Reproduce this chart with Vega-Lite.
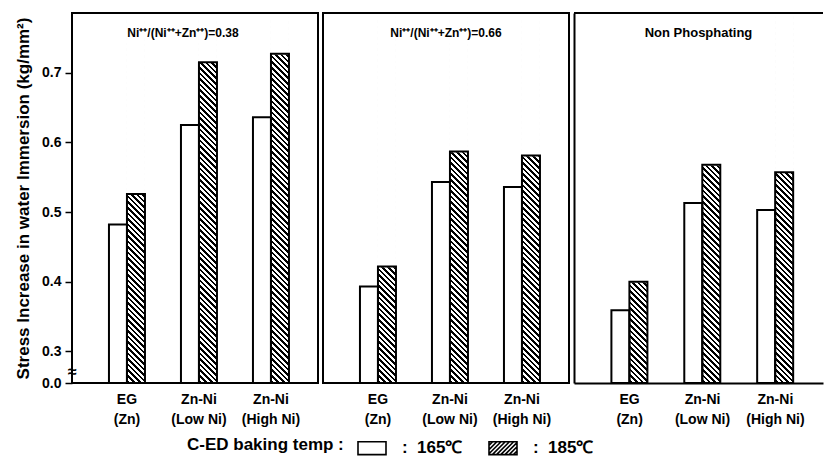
{
 "$schema": "https://vega.github.io/schema/vega-lite/v6.json",
 "padding": {"left": 13, "top": 12, "right": 0, "bottom": 0},
 "background": "white",
 "config": {
  "font": "Liberation Sans",
  "view": {"stroke": "black", "strokeWidth": 2},
  "axis": {"grid": false, "labelColor": "black", "titleColor": "black", "labelFont": "Liberation Sans", "titleFont": "Liberation Sans"}
 },
 "data": {"values": [
  {"panel": "A", "group": "EG|(Zn)", "temp": "165", "value": 0.482},
  {"panel": "A", "group": "EG|(Zn)", "temp": "185", "value": 0.526},
  {"panel": "A", "group": "Zn-Ni|(Low Ni)", "temp": "165", "value": 0.625},
  {"panel": "A", "group": "Zn-Ni|(Low Ni)", "temp": "185", "value": 0.715},
  {"panel": "A", "group": "Zn-Ni|(High Ni)", "temp": "165", "value": 0.636},
  {"panel": "A", "group": "Zn-Ni|(High Ni)", "temp": "185", "value": 0.727},
  {"panel": "B", "group": "EG|(Zn)", "temp": "165", "value": 0.393},
  {"panel": "B", "group": "EG|(Zn)", "temp": "185", "value": 0.422},
  {"panel": "B", "group": "Zn-Ni|(Low Ni)", "temp": "165", "value": 0.543},
  {"panel": "B", "group": "Zn-Ni|(Low Ni)", "temp": "185", "value": 0.587},
  {"panel": "B", "group": "Zn-Ni|(High Ni)", "temp": "165", "value": 0.536},
  {"panel": "B", "group": "Zn-Ni|(High Ni)", "temp": "185", "value": 0.581},
  {"panel": "C", "group": "EG|(Zn)", "temp": "165", "value": 0.359},
  {"panel": "C", "group": "EG|(Zn)", "temp": "185", "value": 0.400},
  {"panel": "C", "group": "Zn-Ni|(Low Ni)", "temp": "165", "value": 0.513},
  {"panel": "C", "group": "Zn-Ni|(Low Ni)", "temp": "185", "value": 0.568},
  {"panel": "C", "group": "Zn-Ni|(High Ni)", "temp": "165", "value": 0.503},
  {"panel": "C", "group": "Zn-Ni|(High Ni)", "temp": "185", "value": 0.557}
 ]},
 "spacing": 3,
 "hconcat": [
  {
   "width": 246, "height": 370,
   "transform": [{"filter": "datum.panel == 'A'"}],
   "resolve": {"axis": {"x": "independent", "y": "independent"}},
   "layer": [
    {"transform": [{"filter": "datum.temp == '185'"}],
     "mark": {"type": "bar", "strokeWidth": 0, "fill": {"gradient": "linear", "x1": 1, "y1": 0, "x2": 0.946615, "y2": 1.08788, "stops": [
{"offset":0,"color":"#000"},{"offset":0.0065,"color":"#000"},{"offset":0.0065,"color":"#fff"},{"offset":0.014,"color":"#fff"},
{"offset":0.014,"color":"#000"},{"offset":0.0205,"color":"#000"},{"offset":0.0205,"color":"#fff"},{"offset":0.028,"color":"#fff"},
{"offset":0.028,"color":"#000"},{"offset":0.0345,"color":"#000"},{"offset":0.0345,"color":"#fff"},{"offset":0.042,"color":"#fff"},
{"offset":0.042,"color":"#000"},{"offset":0.0485,"color":"#000"},{"offset":0.0485,"color":"#fff"},{"offset":0.056,"color":"#fff"},
{"offset":0.056,"color":"#000"},{"offset":0.0625,"color":"#000"},{"offset":0.0625,"color":"#fff"},{"offset":0.07,"color":"#fff"},
{"offset":0.07,"color":"#000"},{"offset":0.0765,"color":"#000"},{"offset":0.0765,"color":"#fff"},{"offset":0.084,"color":"#fff"},
{"offset":0.084,"color":"#000"},{"offset":0.0905,"color":"#000"},{"offset":0.0905,"color":"#fff"},{"offset":0.098,"color":"#fff"},
{"offset":0.098,"color":"#000"},{"offset":0.1045,"color":"#000"},{"offset":0.1045,"color":"#fff"},{"offset":0.112,"color":"#fff"},
{"offset":0.112,"color":"#000"},{"offset":0.1185,"color":"#000"},{"offset":0.1185,"color":"#fff"},{"offset":0.126,"color":"#fff"},
{"offset":0.126,"color":"#000"},{"offset":0.1325,"color":"#000"},{"offset":0.1325,"color":"#fff"},{"offset":0.14,"color":"#fff"},
{"offset":0.14,"color":"#000"},{"offset":0.1465,"color":"#000"},{"offset":0.1465,"color":"#fff"},{"offset":0.154,"color":"#fff"},
{"offset":0.154,"color":"#000"},{"offset":0.1605,"color":"#000"},{"offset":0.1605,"color":"#fff"},{"offset":0.168,"color":"#fff"},
{"offset":0.168,"color":"#000"},{"offset":0.1745,"color":"#000"},{"offset":0.1745,"color":"#fff"},{"offset":0.182,"color":"#fff"},
{"offset":0.182,"color":"#000"},{"offset":0.1885,"color":"#000"},{"offset":0.1885,"color":"#fff"},{"offset":0.196,"color":"#fff"},
{"offset":0.196,"color":"#000"},{"offset":0.2025,"color":"#000"},{"offset":0.2025,"color":"#fff"},{"offset":0.21,"color":"#fff"},
{"offset":0.21,"color":"#000"},{"offset":0.2165,"color":"#000"},{"offset":0.2165,"color":"#fff"},{"offset":0.224,"color":"#fff"},
{"offset":0.224,"color":"#000"},{"offset":0.2305,"color":"#000"},{"offset":0.2305,"color":"#fff"},{"offset":0.238,"color":"#fff"},
{"offset":0.238,"color":"#000"},{"offset":0.2445,"color":"#000"},{"offset":0.2445,"color":"#fff"},{"offset":0.252,"color":"#fff"},
{"offset":0.252,"color":"#000"},{"offset":0.2585,"color":"#000"},{"offset":0.2585,"color":"#fff"},{"offset":0.266,"color":"#fff"},
{"offset":0.266,"color":"#000"},{"offset":0.2725,"color":"#000"},{"offset":0.2725,"color":"#fff"},{"offset":0.28,"color":"#fff"},
{"offset":0.28,"color":"#000"},{"offset":0.2865,"color":"#000"},{"offset":0.2865,"color":"#fff"},{"offset":0.294,"color":"#fff"},
{"offset":0.294,"color":"#000"},{"offset":0.3005,"color":"#000"},{"offset":0.3005,"color":"#fff"},{"offset":0.308,"color":"#fff"},
{"offset":0.308,"color":"#000"},{"offset":0.3145,"color":"#000"},{"offset":0.3145,"color":"#fff"},{"offset":0.322,"color":"#fff"},
{"offset":0.322,"color":"#000"},{"offset":0.3285,"color":"#000"},{"offset":0.3285,"color":"#fff"},{"offset":0.336,"color":"#fff"},
{"offset":0.336,"color":"#000"},{"offset":0.3425,"color":"#000"},{"offset":0.3425,"color":"#fff"},{"offset":0.35,"color":"#fff"},
{"offset":0.35,"color":"#000"},{"offset":0.3565,"color":"#000"},{"offset":0.3565,"color":"#fff"},{"offset":0.364,"color":"#fff"},
{"offset":0.364,"color":"#000"},{"offset":0.3705,"color":"#000"},{"offset":0.3705,"color":"#fff"},{"offset":0.378,"color":"#fff"},
{"offset":0.378,"color":"#000"},{"offset":0.3845,"color":"#000"},{"offset":0.3845,"color":"#fff"},{"offset":0.392,"color":"#fff"},
{"offset":0.392,"color":"#000"},{"offset":0.3985,"color":"#000"},{"offset":0.3985,"color":"#fff"},{"offset":0.406,"color":"#fff"},
{"offset":0.406,"color":"#000"},{"offset":0.4125,"color":"#000"},{"offset":0.4125,"color":"#fff"},{"offset":0.42,"color":"#fff"},
{"offset":0.42,"color":"#000"},{"offset":0.4265,"color":"#000"},{"offset":0.4265,"color":"#fff"},{"offset":0.434,"color":"#fff"},
{"offset":0.434,"color":"#000"},{"offset":0.4405,"color":"#000"},{"offset":0.4405,"color":"#fff"},{"offset":0.448,"color":"#fff"},
{"offset":0.448,"color":"#000"},{"offset":0.4545,"color":"#000"},{"offset":0.4545,"color":"#fff"},{"offset":0.462,"color":"#fff"},
{"offset":0.462,"color":"#000"},{"offset":0.4685,"color":"#000"},{"offset":0.4685,"color":"#fff"},{"offset":0.476,"color":"#fff"},
{"offset":0.476,"color":"#000"},{"offset":0.4825,"color":"#000"},{"offset":0.4825,"color":"#fff"},{"offset":0.49,"color":"#fff"},
{"offset":0.49,"color":"#000"},{"offset":0.4965,"color":"#000"},{"offset":0.4965,"color":"#fff"},{"offset":0.504,"color":"#fff"},
{"offset":0.504,"color":"#000"},{"offset":0.5105,"color":"#000"},{"offset":0.5105,"color":"#fff"},{"offset":0.518,"color":"#fff"},
{"offset":0.518,"color":"#000"},{"offset":0.5245,"color":"#000"},{"offset":0.5245,"color":"#fff"},{"offset":0.532,"color":"#fff"},
{"offset":0.532,"color":"#000"},{"offset":0.5385,"color":"#000"},{"offset":0.5385,"color":"#fff"},{"offset":0.546,"color":"#fff"},
{"offset":0.546,"color":"#000"},{"offset":0.5525,"color":"#000"},{"offset":0.5525,"color":"#fff"},{"offset":0.56,"color":"#fff"},
{"offset":0.56,"color":"#000"},{"offset":0.5665,"color":"#000"},{"offset":0.5665,"color":"#fff"},{"offset":0.574,"color":"#fff"},
{"offset":0.574,"color":"#000"},{"offset":0.5805,"color":"#000"},{"offset":0.5805,"color":"#fff"},{"offset":0.588,"color":"#fff"},
{"offset":0.588,"color":"#000"},{"offset":0.5945,"color":"#000"},{"offset":0.5945,"color":"#fff"},{"offset":0.602,"color":"#fff"},
{"offset":0.602,"color":"#000"},{"offset":0.6085,"color":"#000"},{"offset":0.6085,"color":"#fff"},{"offset":0.616,"color":"#fff"},
{"offset":0.616,"color":"#000"},{"offset":0.6225,"color":"#000"},{"offset":0.6225,"color":"#fff"},{"offset":0.63,"color":"#fff"},
{"offset":0.63,"color":"#000"},{"offset":0.6365,"color":"#000"},{"offset":0.6365,"color":"#fff"},{"offset":0.644,"color":"#fff"},
{"offset":0.644,"color":"#000"},{"offset":0.6505,"color":"#000"},{"offset":0.6505,"color":"#fff"},{"offset":0.658,"color":"#fff"},
{"offset":0.658,"color":"#000"},{"offset":0.6645,"color":"#000"},{"offset":0.6645,"color":"#fff"},{"offset":0.672,"color":"#fff"},
{"offset":0.672,"color":"#000"},{"offset":0.6785,"color":"#000"},{"offset":0.6785,"color":"#fff"},{"offset":0.686,"color":"#fff"},
{"offset":0.686,"color":"#000"},{"offset":0.6925,"color":"#000"},{"offset":0.6925,"color":"#fff"},{"offset":0.7,"color":"#fff"},
{"offset":0.7,"color":"#000"},{"offset":0.7065,"color":"#000"},{"offset":0.7065,"color":"#fff"},{"offset":0.714,"color":"#fff"},
{"offset":0.714,"color":"#000"},{"offset":0.7205,"color":"#000"},{"offset":0.7205,"color":"#fff"},{"offset":0.728,"color":"#fff"},
{"offset":0.728,"color":"#000"},{"offset":0.7345,"color":"#000"},{"offset":0.7345,"color":"#fff"},{"offset":0.742,"color":"#fff"},
{"offset":0.742,"color":"#000"},{"offset":0.7485,"color":"#000"},{"offset":0.7485,"color":"#fff"},{"offset":0.756,"color":"#fff"},
{"offset":0.756,"color":"#000"},{"offset":0.7625,"color":"#000"},{"offset":0.7625,"color":"#fff"},{"offset":0.77,"color":"#fff"},
{"offset":0.77,"color":"#000"},{"offset":0.7765,"color":"#000"},{"offset":0.7765,"color":"#fff"},{"offset":0.784,"color":"#fff"},
{"offset":0.784,"color":"#000"},{"offset":0.7905,"color":"#000"},{"offset":0.7905,"color":"#fff"},{"offset":0.798,"color":"#fff"},
{"offset":0.798,"color":"#000"},{"offset":0.8045,"color":"#000"},{"offset":0.8045,"color":"#fff"},{"offset":0.812,"color":"#fff"},
{"offset":0.812,"color":"#000"},{"offset":0.8185,"color":"#000"},{"offset":0.8185,"color":"#fff"},{"offset":0.826,"color":"#fff"},
{"offset":0.826,"color":"#000"},{"offset":0.8325,"color":"#000"},{"offset":0.8325,"color":"#fff"},{"offset":0.84,"color":"#fff"},
{"offset":0.84,"color":"#000"},{"offset":0.8465,"color":"#000"},{"offset":0.8465,"color":"#fff"},{"offset":0.854,"color":"#fff"},
{"offset":0.854,"color":"#000"},{"offset":0.8605,"color":"#000"},{"offset":0.8605,"color":"#fff"},{"offset":0.868,"color":"#fff"},
{"offset":0.868,"color":"#000"},{"offset":0.8745,"color":"#000"},{"offset":0.8745,"color":"#fff"},{"offset":0.882,"color":"#fff"},
{"offset":0.882,"color":"#000"},{"offset":0.8885,"color":"#000"},{"offset":0.8885,"color":"#fff"},{"offset":0.896,"color":"#fff"},
{"offset":0.896,"color":"#000"},{"offset":0.9025,"color":"#000"},{"offset":0.9025,"color":"#fff"},{"offset":0.91,"color":"#fff"},
{"offset":0.91,"color":"#000"},{"offset":0.9165,"color":"#000"},{"offset":0.9165,"color":"#fff"},{"offset":0.924,"color":"#fff"},
{"offset":0.924,"color":"#000"},{"offset":0.9305,"color":"#000"},{"offset":0.9305,"color":"#fff"},{"offset":0.938,"color":"#fff"},
{"offset":0.938,"color":"#000"},{"offset":0.9445,"color":"#000"},{"offset":0.9445,"color":"#fff"},{"offset":0.952,"color":"#fff"},
{"offset":0.952,"color":"#000"},{"offset":0.9585,"color":"#000"},{"offset":0.9585,"color":"#fff"},{"offset":1,"color":"#fff"}
     ]}},
     "encoding": {
      "x": {"field": "group", "type": "nominal", "sort": null, "scale": {"domain": ["EG|(Zn)", "Zn-Ni|(Low Ni)", "Zn-Ni|(High Ni)"], "paddingInner": 0.5, "paddingOuter": 0.4583, "align": 0.56}, "axis": null},
      "xOffset": {"field": "temp", "type": "nominal", "scale": {"domain": ["165", "185"], "paddingInner": 0, "paddingOuter": 0}},
      "y": {"datum": 0.781, "type": "quantitative", "scale": {"domain": [0.2547, 0.7856], "nice": false, "zero": false},
       "axis": {"orient": "left", "title": null, "values": [0.2719], "labelExpr": "'≈'", "ticks": false, "domain": false, "grid": false, "labelPadding": 0, "labelAlign": "center", "labelBaseline": "middle", "labelFontSize": 16, "labelFontWeight": "bold", "labelOverlap": false, "labelFlush": false, "minExtent": 0}},
      "y2": {"datum": 0.2547}}},
    {"transform": [{"filter": "datum.temp == '185'"}],
     "mark": {"type": "bar", "fill": "white", "stroke": "white", "strokeWidth": 1.5},
     "encoding": {
      "x": {"field": "group", "type": "nominal", "sort": null, "scale": {"domain": ["EG|(Zn)", "Zn-Ni|(Low Ni)", "Zn-Ni|(High Ni)"], "paddingInner": 0.5, "paddingOuter": 0.4583, "align": 0.56}, "axis": null},
      "xOffset": {"field": "temp", "type": "nominal", "scale": {"domain": ["165", "185"], "paddingInner": 0, "paddingOuter": 0}},
      "y": {"field": "value", "type": "quantitative", "scale": {"domain": [0.2547, 0.7856], "nice": false, "zero": false}, "axis": null},
      "y2": {"datum": 0.781}}},
    {"mark": {"type": "bar", "fill": "white", "fillOpacity": 0, "stroke": "black", "strokeWidth": 2},
     "encoding": {
      "x": {"field": "group", "type": "nominal", "sort": null, "scale": {"domain": ["EG|(Zn)", "Zn-Ni|(Low Ni)", "Zn-Ni|(High Ni)"], "paddingInner": 0.5, "paddingOuter": 0.4583, "align": 0.56},
       "axis": {"orient": "bottom", "title": null, "labelAngle": 0, "labelExpr": "split(datum.label, '|')", "labelFontSize": 14, "labelFontWeight": "bold", "labelLineHeight": 20, "labelPadding": 9, "ticks": false, "domain": false}},
      "xOffset": {"field": "temp", "type": "nominal", "scale": {"domain": ["165", "185"], "paddingInner": 0, "paddingOuter": 0}},
      "y": {"field": "value", "type": "quantitative", "scale": {"domain": [0.2547, 0.7856], "nice": false, "zero": false},
       "axis": {"orient": "left", "title": "Stress Increase in water Immersion (kg/mm²)", "titleFontSize": 17, "titleFontWeight": "bold", "titlePadding": 9,
        "values": [0.2547, 0.3, 0.4, 0.5, 0.6, 0.7],
        "labelExpr": "datum.value < 0.26 ? '0.0' : format(datum.value, '.1f')",
        "labelFontSize": 14, "labelFontWeight": "bold", "labelPadding": 4, "labelOverlap": false, "labelFlush": false,
        "tickSize": 7, "tickWidth": 1.5, "tickColor": "black",
        "domain": false}},
      "y2": {"datum": 0.2547}}},
    {"mark": {"type": "point", "opacity": 0, "filled": false, "color": "black"},
     "encoding": {
      "x": {"field": "group", "type": "nominal", "sort": null, "scale": {"domain": ["EG|(Zn)", "Zn-Ni|(Low Ni)", "Zn-Ni|(High Ni)"], "paddingInner": 0.5, "paddingOuter": 0.4583, "align": 0.56}, "axis": null},
      "xOffset": {"field": "temp", "type": "nominal", "scale": {"domain": ["165", "185"], "paddingInner": 0, "paddingOuter": 0}},
      "y": {"field": "value", "type": "quantitative", "scale": {"domain": [0.2547, 0.7856], "nice": false, "zero": false}, "axis": null},
      "shape": {"field": "temp", "type": "nominal",
       "scale": {"domain": ["165", "185"], "range": ["M-1,-0.46H1V0.46H-1Z", "M-1,-0.46H1V0.46H-1Z M-1,-0.2L-0.74,-0.46 M-1,0.1L-0.44,-0.46 M-1,0.4L-0.14,-0.46 M-0.76,0.46L0.16,-0.46 M-0.46,0.46L0.46,-0.46 M-0.16,0.46L0.76,-0.46 M0.14,0.46L1,-0.4 M0.44,0.46L1,-0.1 M0.74,0.46L1,0.2"]},
       "legend": {"orient": "none", "legendX": 115, "legendY": 420, "direction": "horizontal", "padding": 0,
        "title": "C-ED baking temp :", "titleOrient": "left", "titleAnchor": "middle", "titleBaseline": "middle", "titleFontSize": 17, "titleFontWeight": "bold", "titleColor": "black", "titleFont": "Liberation Sans", "titlePadding": 13,
        "labelExpr": "': \u00a0' + datum.label + '℃'", "labelFontSize": 17, "labelFontWeight": "bold", "labelFont": "Liberation Sans", "labelColor": "black", "labelOffset": 15,
        "symbolSize": 784, "symbolStrokeColor": "black", "symbolStrokeWidth": 1.6, "symbolFillColor": "white", "columnPadding": 22}}}},
    {"data": {"values": [{"t": "Ni⁺⁺/(Ni⁺⁺+Zn⁺⁺)=0.38"}]},
     "mark": {"type": "text", "fontSize": 12, "fontWeight": "bold", "dx": -12, "color": "black", "baseline": "middle"},
     "encoding": {"text": {"field": "t"}, "y": {"datum": 0.7569, "type": "quantitative", "scale": {"domain": [0.2547, 0.7856], "nice": false, "zero": false}, "axis": null}}}
   ]
  },
  {
   "width": 246, "height": 370,
   "transform": [{"filter": "datum.panel == 'B'"}],
   "resolve": {"axis": {"x": "independent", "y": "independent"}},
   "layer": [
    {"transform": [{"filter": "datum.temp == '185'"}],
     "mark": {"type": "bar", "strokeWidth": 0, "fill": {"gradient": "linear", "x1": 1, "y1": 0, "x2": 0.946615, "y2": 1.08788, "stops": [
{"offset":0,"color":"#000"},{"offset":0.0065,"color":"#000"},{"offset":0.0065,"color":"#fff"},{"offset":0.014,"color":"#fff"},
{"offset":0.014,"color":"#000"},{"offset":0.0205,"color":"#000"},{"offset":0.0205,"color":"#fff"},{"offset":0.028,"color":"#fff"},
{"offset":0.028,"color":"#000"},{"offset":0.0345,"color":"#000"},{"offset":0.0345,"color":"#fff"},{"offset":0.042,"color":"#fff"},
{"offset":0.042,"color":"#000"},{"offset":0.0485,"color":"#000"},{"offset":0.0485,"color":"#fff"},{"offset":0.056,"color":"#fff"},
{"offset":0.056,"color":"#000"},{"offset":0.0625,"color":"#000"},{"offset":0.0625,"color":"#fff"},{"offset":0.07,"color":"#fff"},
{"offset":0.07,"color":"#000"},{"offset":0.0765,"color":"#000"},{"offset":0.0765,"color":"#fff"},{"offset":0.084,"color":"#fff"},
{"offset":0.084,"color":"#000"},{"offset":0.0905,"color":"#000"},{"offset":0.0905,"color":"#fff"},{"offset":0.098,"color":"#fff"},
{"offset":0.098,"color":"#000"},{"offset":0.1045,"color":"#000"},{"offset":0.1045,"color":"#fff"},{"offset":0.112,"color":"#fff"},
{"offset":0.112,"color":"#000"},{"offset":0.1185,"color":"#000"},{"offset":0.1185,"color":"#fff"},{"offset":0.126,"color":"#fff"},
{"offset":0.126,"color":"#000"},{"offset":0.1325,"color":"#000"},{"offset":0.1325,"color":"#fff"},{"offset":0.14,"color":"#fff"},
{"offset":0.14,"color":"#000"},{"offset":0.1465,"color":"#000"},{"offset":0.1465,"color":"#fff"},{"offset":0.154,"color":"#fff"},
{"offset":0.154,"color":"#000"},{"offset":0.1605,"color":"#000"},{"offset":0.1605,"color":"#fff"},{"offset":0.168,"color":"#fff"},
{"offset":0.168,"color":"#000"},{"offset":0.1745,"color":"#000"},{"offset":0.1745,"color":"#fff"},{"offset":0.182,"color":"#fff"},
{"offset":0.182,"color":"#000"},{"offset":0.1885,"color":"#000"},{"offset":0.1885,"color":"#fff"},{"offset":0.196,"color":"#fff"},
{"offset":0.196,"color":"#000"},{"offset":0.2025,"color":"#000"},{"offset":0.2025,"color":"#fff"},{"offset":0.21,"color":"#fff"},
{"offset":0.21,"color":"#000"},{"offset":0.2165,"color":"#000"},{"offset":0.2165,"color":"#fff"},{"offset":0.224,"color":"#fff"},
{"offset":0.224,"color":"#000"},{"offset":0.2305,"color":"#000"},{"offset":0.2305,"color":"#fff"},{"offset":0.238,"color":"#fff"},
{"offset":0.238,"color":"#000"},{"offset":0.2445,"color":"#000"},{"offset":0.2445,"color":"#fff"},{"offset":0.252,"color":"#fff"},
{"offset":0.252,"color":"#000"},{"offset":0.2585,"color":"#000"},{"offset":0.2585,"color":"#fff"},{"offset":0.266,"color":"#fff"},
{"offset":0.266,"color":"#000"},{"offset":0.2725,"color":"#000"},{"offset":0.2725,"color":"#fff"},{"offset":0.28,"color":"#fff"},
{"offset":0.28,"color":"#000"},{"offset":0.2865,"color":"#000"},{"offset":0.2865,"color":"#fff"},{"offset":0.294,"color":"#fff"},
{"offset":0.294,"color":"#000"},{"offset":0.3005,"color":"#000"},{"offset":0.3005,"color":"#fff"},{"offset":0.308,"color":"#fff"},
{"offset":0.308,"color":"#000"},{"offset":0.3145,"color":"#000"},{"offset":0.3145,"color":"#fff"},{"offset":0.322,"color":"#fff"},
{"offset":0.322,"color":"#000"},{"offset":0.3285,"color":"#000"},{"offset":0.3285,"color":"#fff"},{"offset":0.336,"color":"#fff"},
{"offset":0.336,"color":"#000"},{"offset":0.3425,"color":"#000"},{"offset":0.3425,"color":"#fff"},{"offset":0.35,"color":"#fff"},
{"offset":0.35,"color":"#000"},{"offset":0.3565,"color":"#000"},{"offset":0.3565,"color":"#fff"},{"offset":0.364,"color":"#fff"},
{"offset":0.364,"color":"#000"},{"offset":0.3705,"color":"#000"},{"offset":0.3705,"color":"#fff"},{"offset":0.378,"color":"#fff"},
{"offset":0.378,"color":"#000"},{"offset":0.3845,"color":"#000"},{"offset":0.3845,"color":"#fff"},{"offset":0.392,"color":"#fff"},
{"offset":0.392,"color":"#000"},{"offset":0.3985,"color":"#000"},{"offset":0.3985,"color":"#fff"},{"offset":0.406,"color":"#fff"},
{"offset":0.406,"color":"#000"},{"offset":0.4125,"color":"#000"},{"offset":0.4125,"color":"#fff"},{"offset":0.42,"color":"#fff"},
{"offset":0.42,"color":"#000"},{"offset":0.4265,"color":"#000"},{"offset":0.4265,"color":"#fff"},{"offset":0.434,"color":"#fff"},
{"offset":0.434,"color":"#000"},{"offset":0.4405,"color":"#000"},{"offset":0.4405,"color":"#fff"},{"offset":0.448,"color":"#fff"},
{"offset":0.448,"color":"#000"},{"offset":0.4545,"color":"#000"},{"offset":0.4545,"color":"#fff"},{"offset":0.462,"color":"#fff"},
{"offset":0.462,"color":"#000"},{"offset":0.4685,"color":"#000"},{"offset":0.4685,"color":"#fff"},{"offset":0.476,"color":"#fff"},
{"offset":0.476,"color":"#000"},{"offset":0.4825,"color":"#000"},{"offset":0.4825,"color":"#fff"},{"offset":0.49,"color":"#fff"},
{"offset":0.49,"color":"#000"},{"offset":0.4965,"color":"#000"},{"offset":0.4965,"color":"#fff"},{"offset":0.504,"color":"#fff"},
{"offset":0.504,"color":"#000"},{"offset":0.5105,"color":"#000"},{"offset":0.5105,"color":"#fff"},{"offset":0.518,"color":"#fff"},
{"offset":0.518,"color":"#000"},{"offset":0.5245,"color":"#000"},{"offset":0.5245,"color":"#fff"},{"offset":0.532,"color":"#fff"},
{"offset":0.532,"color":"#000"},{"offset":0.5385,"color":"#000"},{"offset":0.5385,"color":"#fff"},{"offset":0.546,"color":"#fff"},
{"offset":0.546,"color":"#000"},{"offset":0.5525,"color":"#000"},{"offset":0.5525,"color":"#fff"},{"offset":0.56,"color":"#fff"},
{"offset":0.56,"color":"#000"},{"offset":0.5665,"color":"#000"},{"offset":0.5665,"color":"#fff"},{"offset":0.574,"color":"#fff"},
{"offset":0.574,"color":"#000"},{"offset":0.5805,"color":"#000"},{"offset":0.5805,"color":"#fff"},{"offset":0.588,"color":"#fff"},
{"offset":0.588,"color":"#000"},{"offset":0.5945,"color":"#000"},{"offset":0.5945,"color":"#fff"},{"offset":0.602,"color":"#fff"},
{"offset":0.602,"color":"#000"},{"offset":0.6085,"color":"#000"},{"offset":0.6085,"color":"#fff"},{"offset":0.616,"color":"#fff"},
{"offset":0.616,"color":"#000"},{"offset":0.6225,"color":"#000"},{"offset":0.6225,"color":"#fff"},{"offset":0.63,"color":"#fff"},
{"offset":0.63,"color":"#000"},{"offset":0.6365,"color":"#000"},{"offset":0.6365,"color":"#fff"},{"offset":0.644,"color":"#fff"},
{"offset":0.644,"color":"#000"},{"offset":0.6505,"color":"#000"},{"offset":0.6505,"color":"#fff"},{"offset":0.658,"color":"#fff"},
{"offset":0.658,"color":"#000"},{"offset":0.6645,"color":"#000"},{"offset":0.6645,"color":"#fff"},{"offset":0.672,"color":"#fff"},
{"offset":0.672,"color":"#000"},{"offset":0.6785,"color":"#000"},{"offset":0.6785,"color":"#fff"},{"offset":0.686,"color":"#fff"},
{"offset":0.686,"color":"#000"},{"offset":0.6925,"color":"#000"},{"offset":0.6925,"color":"#fff"},{"offset":0.7,"color":"#fff"},
{"offset":0.7,"color":"#000"},{"offset":0.7065,"color":"#000"},{"offset":0.7065,"color":"#fff"},{"offset":0.714,"color":"#fff"},
{"offset":0.714,"color":"#000"},{"offset":0.7205,"color":"#000"},{"offset":0.7205,"color":"#fff"},{"offset":0.728,"color":"#fff"},
{"offset":0.728,"color":"#000"},{"offset":0.7345,"color":"#000"},{"offset":0.7345,"color":"#fff"},{"offset":0.742,"color":"#fff"},
{"offset":0.742,"color":"#000"},{"offset":0.7485,"color":"#000"},{"offset":0.7485,"color":"#fff"},{"offset":0.756,"color":"#fff"},
{"offset":0.756,"color":"#000"},{"offset":0.7625,"color":"#000"},{"offset":0.7625,"color":"#fff"},{"offset":0.77,"color":"#fff"},
{"offset":0.77,"color":"#000"},{"offset":0.7765,"color":"#000"},{"offset":0.7765,"color":"#fff"},{"offset":0.784,"color":"#fff"},
{"offset":0.784,"color":"#000"},{"offset":0.7905,"color":"#000"},{"offset":0.7905,"color":"#fff"},{"offset":0.798,"color":"#fff"},
{"offset":0.798,"color":"#000"},{"offset":0.8045,"color":"#000"},{"offset":0.8045,"color":"#fff"},{"offset":0.812,"color":"#fff"},
{"offset":0.812,"color":"#000"},{"offset":0.8185,"color":"#000"},{"offset":0.8185,"color":"#fff"},{"offset":0.826,"color":"#fff"},
{"offset":0.826,"color":"#000"},{"offset":0.8325,"color":"#000"},{"offset":0.8325,"color":"#fff"},{"offset":0.84,"color":"#fff"},
{"offset":0.84,"color":"#000"},{"offset":0.8465,"color":"#000"},{"offset":0.8465,"color":"#fff"},{"offset":0.854,"color":"#fff"},
{"offset":0.854,"color":"#000"},{"offset":0.8605,"color":"#000"},{"offset":0.8605,"color":"#fff"},{"offset":0.868,"color":"#fff"},
{"offset":0.868,"color":"#000"},{"offset":0.8745,"color":"#000"},{"offset":0.8745,"color":"#fff"},{"offset":0.882,"color":"#fff"},
{"offset":0.882,"color":"#000"},{"offset":0.8885,"color":"#000"},{"offset":0.8885,"color":"#fff"},{"offset":0.896,"color":"#fff"},
{"offset":0.896,"color":"#000"},{"offset":0.9025,"color":"#000"},{"offset":0.9025,"color":"#fff"},{"offset":0.91,"color":"#fff"},
{"offset":0.91,"color":"#000"},{"offset":0.9165,"color":"#000"},{"offset":0.9165,"color":"#fff"},{"offset":0.924,"color":"#fff"},
{"offset":0.924,"color":"#000"},{"offset":0.9305,"color":"#000"},{"offset":0.9305,"color":"#fff"},{"offset":0.938,"color":"#fff"},
{"offset":0.938,"color":"#000"},{"offset":0.9445,"color":"#000"},{"offset":0.9445,"color":"#fff"},{"offset":0.952,"color":"#fff"},
{"offset":0.952,"color":"#000"},{"offset":0.9585,"color":"#000"},{"offset":0.9585,"color":"#fff"},{"offset":1,"color":"#fff"}
     ]}},
     "encoding": {
      "x": {"field": "group", "type": "nominal", "sort": null, "scale": {"domain": ["EG|(Zn)", "Zn-Ni|(Low Ni)", "Zn-Ni|(High Ni)"], "paddingInner": 0.5, "paddingOuter": 0.4583, "align": 0.56}, "axis": null},
      "xOffset": {"field": "temp", "type": "nominal", "scale": {"domain": ["165", "185"], "paddingInner": 0, "paddingOuter": 0}},
      "y": {"datum": 0.781, "type": "quantitative", "scale": {"domain": [0.2547, 0.7856], "nice": false, "zero": false}, "axis": null},
      "y2": {"datum": 0.2547}}},
    {"transform": [{"filter": "datum.temp == '185'"}],
     "mark": {"type": "bar", "fill": "white", "stroke": "white", "strokeWidth": 1.5},
     "encoding": {
      "x": {"field": "group", "type": "nominal", "sort": null, "scale": {"domain": ["EG|(Zn)", "Zn-Ni|(Low Ni)", "Zn-Ni|(High Ni)"], "paddingInner": 0.5, "paddingOuter": 0.4583, "align": 0.56}, "axis": null},
      "xOffset": {"field": "temp", "type": "nominal", "scale": {"domain": ["165", "185"], "paddingInner": 0, "paddingOuter": 0}},
      "y": {"field": "value", "type": "quantitative", "scale": {"domain": [0.2547, 0.7856], "nice": false, "zero": false}, "axis": null},
      "y2": {"datum": 0.781}}},
    {"mark": {"type": "bar", "fill": "white", "fillOpacity": 0, "stroke": "black", "strokeWidth": 2},
     "encoding": {
      "x": {"field": "group", "type": "nominal", "sort": null, "scale": {"domain": ["EG|(Zn)", "Zn-Ni|(Low Ni)", "Zn-Ni|(High Ni)"], "paddingInner": 0.5, "paddingOuter": 0.4583, "align": 0.56},
       "axis": {"orient": "bottom", "title": null, "labelAngle": 0, "labelExpr": "split(datum.label, '|')", "labelFontSize": 14, "labelFontWeight": "bold", "labelLineHeight": 20, "labelPadding": 9, "ticks": false, "domain": false}},
      "xOffset": {"field": "temp", "type": "nominal", "scale": {"domain": ["165", "185"], "paddingInner": 0, "paddingOuter": 0}},
      "y": {"field": "value", "type": "quantitative", "scale": {"domain": [0.2547, 0.7856], "nice": false, "zero": false}, "axis": null},
      "y2": {"datum": 0.2547}}},
    {"data": {"values": [{"t": "Ni⁺⁺/(Ni⁺⁺+Zn⁺⁺)=0.66"}]},
     "mark": {"type": "text", "fontSize": 12, "fontWeight": "bold", "color": "black", "baseline": "middle"},
     "encoding": {"text": {"field": "t"}, "y": {"datum": 0.7569, "type": "quantitative", "scale": {"domain": [0.2547, 0.7856], "nice": false, "zero": false}, "axis": null}}}
   ]
  },
  {
   "width": 249, "height": 370,
   "view": {"stroke": null},
   "transform": [{"filter": "datum.panel == 'C'"}],
   "resolve": {"axis": {"x": "independent", "y": "independent"}},
   "layer": [
    {"transform": [{"filter": "datum.temp == '185'"}],
     "mark": {"type": "bar", "strokeWidth": 0, "fill": {"gradient": "linear", "x1": 1, "y1": 0, "x2": 0.946615, "y2": 1.08788, "stops": [
{"offset":0,"color":"#000"},{"offset":0.0065,"color":"#000"},{"offset":0.0065,"color":"#fff"},{"offset":0.014,"color":"#fff"},
{"offset":0.014,"color":"#000"},{"offset":0.0205,"color":"#000"},{"offset":0.0205,"color":"#fff"},{"offset":0.028,"color":"#fff"},
{"offset":0.028,"color":"#000"},{"offset":0.0345,"color":"#000"},{"offset":0.0345,"color":"#fff"},{"offset":0.042,"color":"#fff"},
{"offset":0.042,"color":"#000"},{"offset":0.0485,"color":"#000"},{"offset":0.0485,"color":"#fff"},{"offset":0.056,"color":"#fff"},
{"offset":0.056,"color":"#000"},{"offset":0.0625,"color":"#000"},{"offset":0.0625,"color":"#fff"},{"offset":0.07,"color":"#fff"},
{"offset":0.07,"color":"#000"},{"offset":0.0765,"color":"#000"},{"offset":0.0765,"color":"#fff"},{"offset":0.084,"color":"#fff"},
{"offset":0.084,"color":"#000"},{"offset":0.0905,"color":"#000"},{"offset":0.0905,"color":"#fff"},{"offset":0.098,"color":"#fff"},
{"offset":0.098,"color":"#000"},{"offset":0.1045,"color":"#000"},{"offset":0.1045,"color":"#fff"},{"offset":0.112,"color":"#fff"},
{"offset":0.112,"color":"#000"},{"offset":0.1185,"color":"#000"},{"offset":0.1185,"color":"#fff"},{"offset":0.126,"color":"#fff"},
{"offset":0.126,"color":"#000"},{"offset":0.1325,"color":"#000"},{"offset":0.1325,"color":"#fff"},{"offset":0.14,"color":"#fff"},
{"offset":0.14,"color":"#000"},{"offset":0.1465,"color":"#000"},{"offset":0.1465,"color":"#fff"},{"offset":0.154,"color":"#fff"},
{"offset":0.154,"color":"#000"},{"offset":0.1605,"color":"#000"},{"offset":0.1605,"color":"#fff"},{"offset":0.168,"color":"#fff"},
{"offset":0.168,"color":"#000"},{"offset":0.1745,"color":"#000"},{"offset":0.1745,"color":"#fff"},{"offset":0.182,"color":"#fff"},
{"offset":0.182,"color":"#000"},{"offset":0.1885,"color":"#000"},{"offset":0.1885,"color":"#fff"},{"offset":0.196,"color":"#fff"},
{"offset":0.196,"color":"#000"},{"offset":0.2025,"color":"#000"},{"offset":0.2025,"color":"#fff"},{"offset":0.21,"color":"#fff"},
{"offset":0.21,"color":"#000"},{"offset":0.2165,"color":"#000"},{"offset":0.2165,"color":"#fff"},{"offset":0.224,"color":"#fff"},
{"offset":0.224,"color":"#000"},{"offset":0.2305,"color":"#000"},{"offset":0.2305,"color":"#fff"},{"offset":0.238,"color":"#fff"},
{"offset":0.238,"color":"#000"},{"offset":0.2445,"color":"#000"},{"offset":0.2445,"color":"#fff"},{"offset":0.252,"color":"#fff"},
{"offset":0.252,"color":"#000"},{"offset":0.2585,"color":"#000"},{"offset":0.2585,"color":"#fff"},{"offset":0.266,"color":"#fff"},
{"offset":0.266,"color":"#000"},{"offset":0.2725,"color":"#000"},{"offset":0.2725,"color":"#fff"},{"offset":0.28,"color":"#fff"},
{"offset":0.28,"color":"#000"},{"offset":0.2865,"color":"#000"},{"offset":0.2865,"color":"#fff"},{"offset":0.294,"color":"#fff"},
{"offset":0.294,"color":"#000"},{"offset":0.3005,"color":"#000"},{"offset":0.3005,"color":"#fff"},{"offset":0.308,"color":"#fff"},
{"offset":0.308,"color":"#000"},{"offset":0.3145,"color":"#000"},{"offset":0.3145,"color":"#fff"},{"offset":0.322,"color":"#fff"},
{"offset":0.322,"color":"#000"},{"offset":0.3285,"color":"#000"},{"offset":0.3285,"color":"#fff"},{"offset":0.336,"color":"#fff"},
{"offset":0.336,"color":"#000"},{"offset":0.3425,"color":"#000"},{"offset":0.3425,"color":"#fff"},{"offset":0.35,"color":"#fff"},
{"offset":0.35,"color":"#000"},{"offset":0.3565,"color":"#000"},{"offset":0.3565,"color":"#fff"},{"offset":0.364,"color":"#fff"},
{"offset":0.364,"color":"#000"},{"offset":0.3705,"color":"#000"},{"offset":0.3705,"color":"#fff"},{"offset":0.378,"color":"#fff"},
{"offset":0.378,"color":"#000"},{"offset":0.3845,"color":"#000"},{"offset":0.3845,"color":"#fff"},{"offset":0.392,"color":"#fff"},
{"offset":0.392,"color":"#000"},{"offset":0.3985,"color":"#000"},{"offset":0.3985,"color":"#fff"},{"offset":0.406,"color":"#fff"},
{"offset":0.406,"color":"#000"},{"offset":0.4125,"color":"#000"},{"offset":0.4125,"color":"#fff"},{"offset":0.42,"color":"#fff"},
{"offset":0.42,"color":"#000"},{"offset":0.4265,"color":"#000"},{"offset":0.4265,"color":"#fff"},{"offset":0.434,"color":"#fff"},
{"offset":0.434,"color":"#000"},{"offset":0.4405,"color":"#000"},{"offset":0.4405,"color":"#fff"},{"offset":0.448,"color":"#fff"},
{"offset":0.448,"color":"#000"},{"offset":0.4545,"color":"#000"},{"offset":0.4545,"color":"#fff"},{"offset":0.462,"color":"#fff"},
{"offset":0.462,"color":"#000"},{"offset":0.4685,"color":"#000"},{"offset":0.4685,"color":"#fff"},{"offset":0.476,"color":"#fff"},
{"offset":0.476,"color":"#000"},{"offset":0.4825,"color":"#000"},{"offset":0.4825,"color":"#fff"},{"offset":0.49,"color":"#fff"},
{"offset":0.49,"color":"#000"},{"offset":0.4965,"color":"#000"},{"offset":0.4965,"color":"#fff"},{"offset":0.504,"color":"#fff"},
{"offset":0.504,"color":"#000"},{"offset":0.5105,"color":"#000"},{"offset":0.5105,"color":"#fff"},{"offset":0.518,"color":"#fff"},
{"offset":0.518,"color":"#000"},{"offset":0.5245,"color":"#000"},{"offset":0.5245,"color":"#fff"},{"offset":0.532,"color":"#fff"},
{"offset":0.532,"color":"#000"},{"offset":0.5385,"color":"#000"},{"offset":0.5385,"color":"#fff"},{"offset":0.546,"color":"#fff"},
{"offset":0.546,"color":"#000"},{"offset":0.5525,"color":"#000"},{"offset":0.5525,"color":"#fff"},{"offset":0.56,"color":"#fff"},
{"offset":0.56,"color":"#000"},{"offset":0.5665,"color":"#000"},{"offset":0.5665,"color":"#fff"},{"offset":0.574,"color":"#fff"},
{"offset":0.574,"color":"#000"},{"offset":0.5805,"color":"#000"},{"offset":0.5805,"color":"#fff"},{"offset":0.588,"color":"#fff"},
{"offset":0.588,"color":"#000"},{"offset":0.5945,"color":"#000"},{"offset":0.5945,"color":"#fff"},{"offset":0.602,"color":"#fff"},
{"offset":0.602,"color":"#000"},{"offset":0.6085,"color":"#000"},{"offset":0.6085,"color":"#fff"},{"offset":0.616,"color":"#fff"},
{"offset":0.616,"color":"#000"},{"offset":0.6225,"color":"#000"},{"offset":0.6225,"color":"#fff"},{"offset":0.63,"color":"#fff"},
{"offset":0.63,"color":"#000"},{"offset":0.6365,"color":"#000"},{"offset":0.6365,"color":"#fff"},{"offset":0.644,"color":"#fff"},
{"offset":0.644,"color":"#000"},{"offset":0.6505,"color":"#000"},{"offset":0.6505,"color":"#fff"},{"offset":0.658,"color":"#fff"},
{"offset":0.658,"color":"#000"},{"offset":0.6645,"color":"#000"},{"offset":0.6645,"color":"#fff"},{"offset":0.672,"color":"#fff"},
{"offset":0.672,"color":"#000"},{"offset":0.6785,"color":"#000"},{"offset":0.6785,"color":"#fff"},{"offset":0.686,"color":"#fff"},
{"offset":0.686,"color":"#000"},{"offset":0.6925,"color":"#000"},{"offset":0.6925,"color":"#fff"},{"offset":0.7,"color":"#fff"},
{"offset":0.7,"color":"#000"},{"offset":0.7065,"color":"#000"},{"offset":0.7065,"color":"#fff"},{"offset":0.714,"color":"#fff"},
{"offset":0.714,"color":"#000"},{"offset":0.7205,"color":"#000"},{"offset":0.7205,"color":"#fff"},{"offset":0.728,"color":"#fff"},
{"offset":0.728,"color":"#000"},{"offset":0.7345,"color":"#000"},{"offset":0.7345,"color":"#fff"},{"offset":0.742,"color":"#fff"},
{"offset":0.742,"color":"#000"},{"offset":0.7485,"color":"#000"},{"offset":0.7485,"color":"#fff"},{"offset":0.756,"color":"#fff"},
{"offset":0.756,"color":"#000"},{"offset":0.7625,"color":"#000"},{"offset":0.7625,"color":"#fff"},{"offset":0.77,"color":"#fff"},
{"offset":0.77,"color":"#000"},{"offset":0.7765,"color":"#000"},{"offset":0.7765,"color":"#fff"},{"offset":0.784,"color":"#fff"},
{"offset":0.784,"color":"#000"},{"offset":0.7905,"color":"#000"},{"offset":0.7905,"color":"#fff"},{"offset":0.798,"color":"#fff"},
{"offset":0.798,"color":"#000"},{"offset":0.8045,"color":"#000"},{"offset":0.8045,"color":"#fff"},{"offset":0.812,"color":"#fff"},
{"offset":0.812,"color":"#000"},{"offset":0.8185,"color":"#000"},{"offset":0.8185,"color":"#fff"},{"offset":0.826,"color":"#fff"},
{"offset":0.826,"color":"#000"},{"offset":0.8325,"color":"#000"},{"offset":0.8325,"color":"#fff"},{"offset":0.84,"color":"#fff"},
{"offset":0.84,"color":"#000"},{"offset":0.8465,"color":"#000"},{"offset":0.8465,"color":"#fff"},{"offset":0.854,"color":"#fff"},
{"offset":0.854,"color":"#000"},{"offset":0.8605,"color":"#000"},{"offset":0.8605,"color":"#fff"},{"offset":0.868,"color":"#fff"},
{"offset":0.868,"color":"#000"},{"offset":0.8745,"color":"#000"},{"offset":0.8745,"color":"#fff"},{"offset":0.882,"color":"#fff"},
{"offset":0.882,"color":"#000"},{"offset":0.8885,"color":"#000"},{"offset":0.8885,"color":"#fff"},{"offset":0.896,"color":"#fff"},
{"offset":0.896,"color":"#000"},{"offset":0.9025,"color":"#000"},{"offset":0.9025,"color":"#fff"},{"offset":0.91,"color":"#fff"},
{"offset":0.91,"color":"#000"},{"offset":0.9165,"color":"#000"},{"offset":0.9165,"color":"#fff"},{"offset":0.924,"color":"#fff"},
{"offset":0.924,"color":"#000"},{"offset":0.9305,"color":"#000"},{"offset":0.9305,"color":"#fff"},{"offset":0.938,"color":"#fff"},
{"offset":0.938,"color":"#000"},{"offset":0.9445,"color":"#000"},{"offset":0.9445,"color":"#fff"},{"offset":0.952,"color":"#fff"},
{"offset":0.952,"color":"#000"},{"offset":0.9585,"color":"#000"},{"offset":0.9585,"color":"#fff"},{"offset":1,"color":"#fff"}
     ]}},
     "encoding": {
      "x": {"field": "group", "type": "nominal", "sort": null, "scale": {"domain": ["EG|(Zn)", "Zn-Ni|(Low Ni)", "Zn-Ni|(High Ni)"], "paddingInner": 0.5, "paddingOuter": 0.4583, "align": 0.56}, "axis": null},
      "xOffset": {"field": "temp", "type": "nominal", "scale": {"domain": ["165", "185"], "paddingInner": 0, "paddingOuter": 0}},
      "y": {"datum": 0.781, "type": "quantitative", "scale": {"domain": [0.2547, 0.7856], "nice": false, "zero": false}, "axis": null},
      "y2": {"datum": 0.2547}}},
    {"transform": [{"filter": "datum.temp == '185'"}],
     "mark": {"type": "bar", "fill": "white", "stroke": "white", "strokeWidth": 1.5},
     "encoding": {
      "x": {"field": "group", "type": "nominal", "sort": null, "scale": {"domain": ["EG|(Zn)", "Zn-Ni|(Low Ni)", "Zn-Ni|(High Ni)"], "paddingInner": 0.5, "paddingOuter": 0.4583, "align": 0.56}, "axis": null},
      "xOffset": {"field": "temp", "type": "nominal", "scale": {"domain": ["165", "185"], "paddingInner": 0, "paddingOuter": 0}},
      "y": {"field": "value", "type": "quantitative", "scale": {"domain": [0.2547, 0.7856], "nice": false, "zero": false}, "axis": null},
      "y2": {"datum": 0.781}}},
    {"mark": {"type": "bar", "fill": "white", "fillOpacity": 0, "stroke": "black", "strokeWidth": 2},
     "encoding": {
      "x": {"field": "group", "type": "nominal", "sort": null, "scale": {"domain": ["EG|(Zn)", "Zn-Ni|(Low Ni)", "Zn-Ni|(High Ni)"], "paddingInner": 0.5, "paddingOuter": 0.4583, "align": 0.56},
       "axis": {"orient": "bottom", "title": null, "labelAngle": 0, "labelExpr": "split(datum.label, '|')", "labelFontSize": 14, "labelFontWeight": "bold", "labelLineHeight": 20, "labelPadding": 9, "ticks": false, "domain": true, "domainColor": "black", "domainWidth": 2}},
      "xOffset": {"field": "temp", "type": "nominal", "scale": {"domain": ["165", "185"], "paddingInner": 0, "paddingOuter": 0}},
      "y": {"field": "value", "type": "quantitative", "scale": {"domain": [0.2547, 0.7856], "nice": false, "zero": false},
       "axis": {"orient": "left", "title": null, "labels": false, "ticks": false, "domain": true, "domainColor": "black", "domainWidth": 2, "minExtent": 0, "grid": false}},
      "y2": {"datum": 0.2547}}},
    {"data": {"values": [{"t": "Non Phosphating"}]},
     "mark": {"type": "text", "fontSize": 13, "fontWeight": "bold", "color": "black", "baseline": "middle"},
     "encoding": {"text": {"field": "t"}, "y": {"datum": 0.7569, "type": "quantitative", "scale": {"domain": [0.2547, 0.7856], "nice": false, "zero": false}, "axis": null}}},
    {"data": {"values": [{}]},
     "mark": {"type": "rule", "stroke": "black", "strokeWidth": 2},
     "encoding": {"y": {"datum": 0.7856, "type": "quantitative", "scale": {"domain": [0.2547, 0.7856], "nice": false, "zero": false}, "axis": null}}}
   ]
  }
 ]
}
